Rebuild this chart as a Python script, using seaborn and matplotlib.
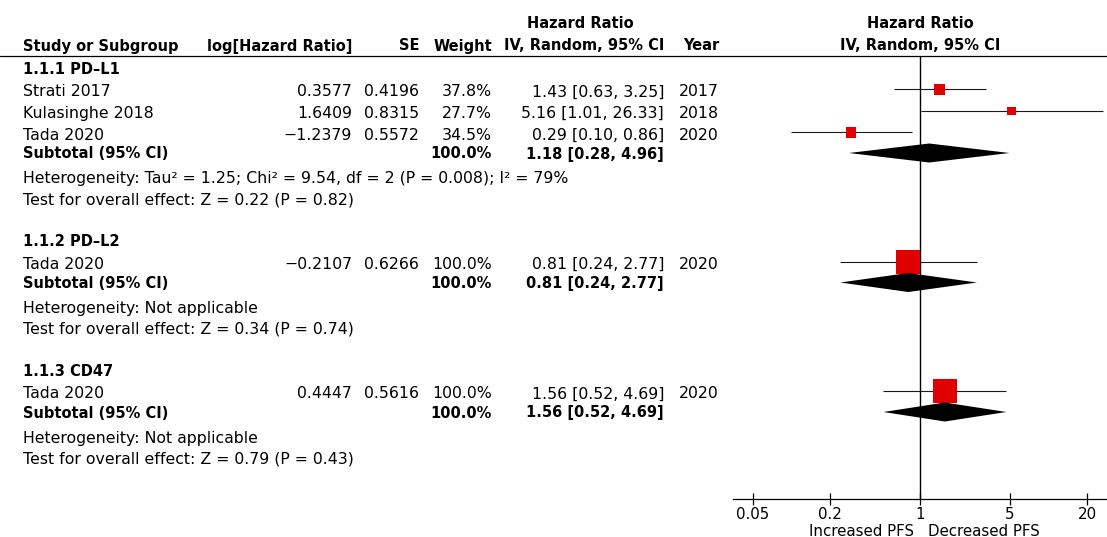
import numpy as np
import pandas as pd
import matplotlib
matplotlib.use("Agg")
import matplotlib.pyplot as plt
import seaborn as sns

# Data
subgroups = ["1.1.1 PD\u2013L1", "1.1.2 PD\u2013L2", "1.1.3 CD47"]
study_names = ["Strati 2017", "Kulasinghe 2018", "Tada 2020", "Tada 2020", "Tada 2020"]
study_group = [0, 0, 0, 1, 2]
log_hr = [0.3577, 1.6409, -1.2379, -0.2107, 0.4447]
se = [0.4196, 0.8315, 0.5572, 0.6266, 0.5616]
weight = [37.8, 27.7, 34.5, 100.0, 100.0]
hr = [1.43, 5.16, 0.29, 0.81, 1.56]
ci_low = [0.63, 1.01, 0.10, 0.24, 0.52]
ci_high = [3.25, 26.33, 0.86, 2.77, 4.69]
years = [2017, 2018, 2020, 2020, 2020]
sub_weight = [100.0, 100.0, 100.0]
sub_hr = [1.18, 0.81, 1.56]
sub_low = [0.28, 0.24, 0.52]
sub_high = [4.96, 2.77, 4.69]
heterogeneity = [
    "Heterogeneity: Tau\u00b2 = 1.25; Chi\u00b2 = 9.54, df = 2 (P = 0.008); I\u00b2 = 79%",
    "Heterogeneity: Not applicable",
    "Heterogeneity: Not applicable",
]
overall_effect = [
    "Test for overall effect: Z = 0.22 (P = 0.82)",
    "Test for overall effect: Z = 0.34 (P = 0.74)",
    "Test for overall effect: Z = 0.79 (P = 0.43)",
]
tick_values = [0.05, 0.2, 1, 5, 20]
tick_labels = ["0.05", "0.2", "1", "5", "20"]


def fmt_num(v, d):
    return f"{v:.{d}f}".replace("-", "\u2212")


def main():
    sns.set_style("white")
    plt.rcParams['font.family'] = ['DejaVu Sans']
    plt.rcParams['text.color'] = 'black'
    W, H = 1107, 537
    fs, fsb = 11.3, 10.5

    fig = plt.figure(figsize=(W / 100, H / 100), dpi=100)
    ax_t = fig.add_axes([0, 0, 1, 1])
    ax_t.set_xlim(0, W)
    ax_t.set_ylim(H, 0)
    ax_t.axis("off")

    # forest axes, y in pixel rows
    top_y, axis_y = 56, 499
    ax = fig.add_axes([733 / W, (H - axis_y) / H, (W - 733) / W, (axis_y - top_y) / H])
    ax.patch.set_alpha(0)
    ax.set_xscale("log")
    ax.set_xlim(1 / 28.4, 28.4)
    ax.set_ylim(axis_y, top_y)

    def txt(x, y, s, ha="left", bold=False):
        ax_t.text(x, y + 5.5, s, ha=ha, va="baseline",
                  fontsize=fsb if bold else fs,
                  fontweight="bold" if bold else "normal", color="black")

    # column headers
    col_loghr, col_se, col_w, col_ci, col_year = 352, 419, 492, 664, 719
    txt(580, 23, "Hazard Ratio", ha="center", bold=True)
    txt(23, 45, "Study or Subgroup", bold=True)
    txt(col_loghr, 45, "log[Hazard Ratio]", ha="right", bold=True)
    txt(col_se, 45, "SE", ha="right", bold=True)
    txt(col_w, 45, "Weight", ha="right", bold=True)
    txt(col_ci, 45, "IV, Random, 95% CI", ha="right", bold=True)
    txt(col_year, 45, "Year", ha="right", bold=True)
    txt(920, 23, "Hazard Ratio", ha="center", bold=True)
    txt(920, 45, "IV, Random, 95% CI", ha="center", bold=True)
    ax_t.plot([0, W], [top_y, top_y], color="black", lw=0.9)

    # lay out rows
    study_y = []
    sub_y = []
    y = 68
    for g, name in enumerate(subgroups):
        txt(23, y, name, bold=True)
        yy = y + 23
        idx = [i for i, sg in enumerate(study_group) if sg == g]
        for k, i in enumerate(idx):
            txt(23, yy, study_names[i])
            txt(col_loghr, yy, fmt_num(log_hr[i], 4), ha="right")
            txt(col_se, yy, fmt_num(se[i], 4), ha="right")
            txt(col_w, yy, f"{weight[i]:.1f}%", ha="right")
            txt(col_ci, yy, f"{hr[i]:.2f} [{ci_low[i]:.2f}, {ci_high[i]:.2f}]", ha="right")
            txt(col_year, yy, str(years[i]), ha="right")
            study_y.append(yy - 1.5)
            if k < len(idx) - 1:
                yy += 21.5
        yy += 19
        txt(23, yy, "Subtotal (95% CI)", bold=True)
        txt(col_w, yy, f"{sub_weight[g]:.1f}%", ha="right", bold=True)
        txt(col_ci, yy, f"{sub_hr[g]:.2f} [{sub_low[g]:.2f}, {sub_high[g]:.2f}]", ha="right", bold=True)
        sub_y.append(yy)
        yy += 25
        txt(23, yy, heterogeneity[g])
        yy += 21
        txt(23, yy, overall_effect[g])
        y = yy + 41.5

    # forest marks
    df = pd.DataFrame({"hr": hr, "lo": ci_low, "hi": ci_high,
                       "w": weight, "y": study_y})
    side_px = 24 * (df["w"] / 100.0) ** 0.8
    ax.axvline(1, color="black", lw=1.0, zorder=1)
    ax.hlines(df["y"], df["lo"], df["hi"], color="#1a1a1a", lw=0.8, zorder=2)
    sns.scatterplot(data=df, x="hr", y="y", marker="s", color="#e10000",
                    s=(side_px * 0.72) ** 2, linewidth=0, ax=ax, zorder=3, legend=False)
    for g in range(len(subgroups)):
        ax.fill([sub_low[g], sub_hr[g], sub_high[g], sub_hr[g]],
                [sub_y[g], sub_y[g] - 9.5, sub_y[g], sub_y[g] + 9.5],
                color="black", lw=0, zorder=4)

    for side in ["top", "left", "right"]:
        ax.spines[side].set_visible(False)
    ax.spines["bottom"].set_linewidth(0.9)
    ax.spines["bottom"].set_color("black")
    ax.set_xticks(tick_values)
    ax.set_xticklabels(tick_labels)
    ax.minorticks_off()
    ax.set_yticks([])
    ax.tick_params(axis="x", direction="inout", length=8, width=0.9,
                   pad=1.5, labelsize=10.8, colors="black", bottom=True)
    ax.set_xlabel("")
    ax.set_ylabel("")

    ax_t.text(914, 536, "Increased PFS", ha="right", va="baseline", fontsize=10.8, color="black")
    ax_t.text(928, 536, "Decreased PFS", ha="left", va="baseline", fontsize=10.8, color="black")

    fig.savefig("out.png", dpi=100)
    plt.close(fig)


if __name__ == "__main__":
    main()
